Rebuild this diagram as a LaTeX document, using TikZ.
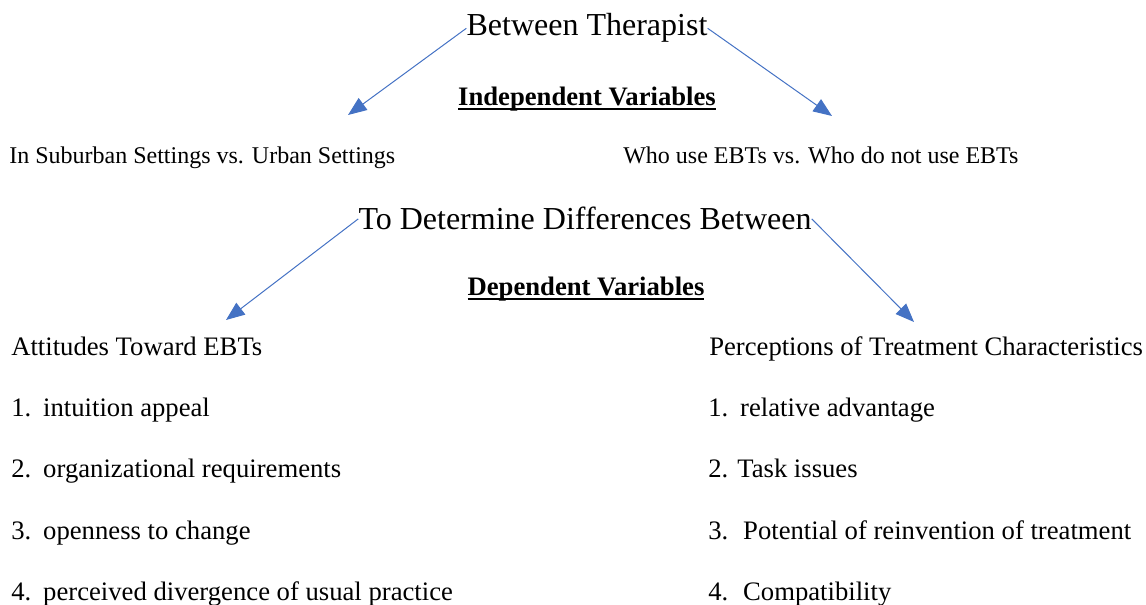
\documentclass[tikz,border=0pt]{standalone}
\usepackage{fontspec}
\setmainfont{Liberation Serif}
\usetikzlibrary{arrows.meta}
\definecolor{linkblue}{HTML}{4472C4}
\newcommand{\thickul}[1]{\setbox0\hbox{#1}\rlap{\rule[-3.2pt]{\wd0}{1.4pt}}\box0}
\tikzset{
  title/.style={inner sep=0pt, anchor=base, font=\fontsize{24}{28}\selectfont},
  heading/.style={inner sep=0pt, anchor=base, font=\fontsize{20}{24}\selectfont\bfseries},
  group/.style={inner sep=0pt, anchor=base west, font=\fontsize{18}{22}\selectfont},
  item/.style={inner sep=0pt, anchor=base west, font=\fontsize{20}{24}\selectfont},
  link/.style={draw=linkblue, line width=0.75pt, -{Triangle[length=14pt,width=11pt]}}
}
\begin{document}
\begin{tikzpicture}[x=0.75pt, y=-0.75pt]
  \useasboundingbox (0,0) rectangle (1146,605);

  % independent side
  \node[title] (between) at (587,36) {Between Therapist};
  \node[heading] (indep) at (587,106) {\thickul{Independent Variables}};
  \node[group] (suburban) at (9,164) {In Suburban Settings vs. Urban Settings};
  \node[group] (ebtuse) at (623,164) {Who use EBTs vs. Who do not use EBTs};

  \coordinate (tipA) at (348,115);
  \coordinate (tipB) at (832,116);
  \draw[link] (between.west) -- (tipA);
  \draw[link] (between.east) -- (tipB);

  % dependent side
  \node[title] (determine) at (585,230) {To Determine Differences Between};
  \node[heading] (dep) at (586,296) {\thickul{Dependent Variables}};

  \coordinate (tipC) at (226,320);
  \coordinate (tipD) at (914,322);
  \draw[link] (determine.west) -- (tipC);
  \draw[link] (determine.east) -- (tipD);

  \node[item] (attitudes) at (11,356) {Attitudes Toward EBTs};
  \node[item] (att1) at (11,417) {1.\hspace{0.45em}intuition appeal};
  \node[item] (att2) at (11,478) {2.\hspace{0.45em}organizational requirements};
  \node[item] (att3) at (11,540) {3.\hspace{0.45em}openness to change};
  \node[item] (att4) at (11,600) {4.\hspace{0.45em}perceived divergence of usual practice};

  \node[item] (percept) at (709,356) {Perceptions of Treatment Characteristics};
  \node[item] (per1) at (708,417) {1.\hspace{0.45em}relative advantage};
  \node[item] (per2) at (708,478) {2.\hspace{0.34em}Task issues};
  \node[item] (per3) at (708,540) {3.\hspace{0.56em}Potential of reinvention of treatment};
  \node[item] (per4) at (708,600) {4.\hspace{0.56em}Compatibility};
\end{tikzpicture}
\end{document}
